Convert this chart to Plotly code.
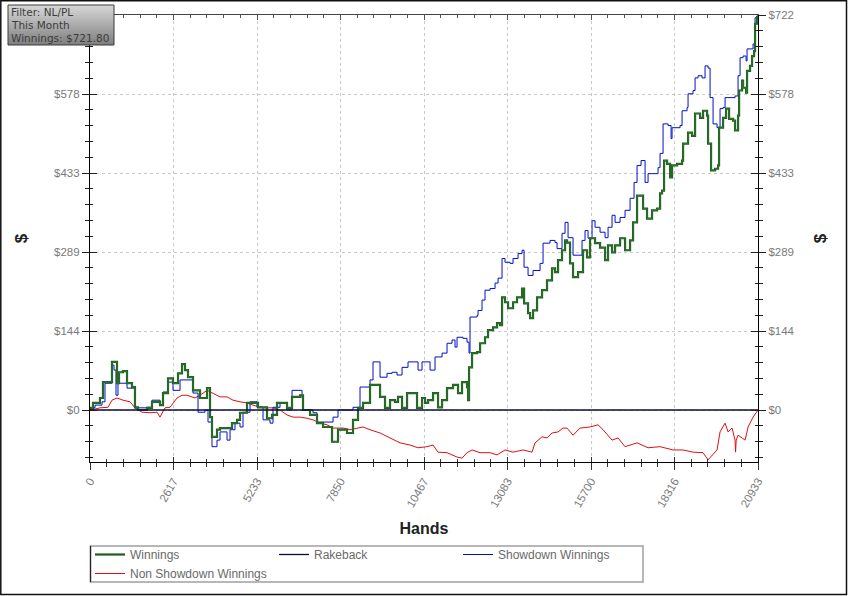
import plotly.graph_objects as go

W, H = 848, 596
L, R, T, B = 90, 90, 15, 134
PW, PH = W - L - R, H - T - B

HANDS_MAX = 20933
Y_MIN, Y_MAX = -95, 722

# Winnings
win_hands = [0, 31, 94, 313, 407, 564, 689, 784, 846, 909, 1034, 1160, 1316, 1410, 1504,
             1786, 1943, 2194, 2288, 2445, 2601, 2758, 2883, 2977, 3071, 3228, 3447, 3667,
             3761, 3823, 3980, 4074, 4294, 4450, 4607, 4701, 4795, 4920, 5108, 5265, 5547,
             5704, 5861, 6049, 6174, 6331, 6581, 6675, 6895, 7114, 7302, 7584, 7772, 8054,
             8242, 8399, 8556, 8775, 8932, 9089, 9245, 9402, 9559, 9653, 9778, 9935, 10091,
             10248, 10405, 10499, 10593, 10750, 10906, 11032, 11188, 11376, 11533, 11658,
             11815, 11847, 11878, 11972, 12129, 12223, 12379, 12473, 12630, 12755, 12849,
             12912, 13006, 13100, 13257, 13382, 13539, 13602, 13727, 13790, 13884, 14009,
             14166, 14322, 14479, 14573, 14667, 14792, 14887, 14949, 15043, 15137, 15294,
             15450, 15576, 15670, 15827, 15983, 16140, 16234, 16359, 16454, 16610, 16767,
             16924, 17018, 17143, 17300, 17331, 17456, 17613, 17770, 17864, 17926, 17989,
             18083, 18177, 18240, 18397, 18553, 18585, 18741, 18867, 18961, 19117, 19211,
             19337, 19368, 19462, 19588, 19682, 19713, 19838, 19932, 20026, 20152, 20214,
             20308, 20340, 20434, 20465, 20559, 20590, 20684, 20747, 20810, 20841, 20903,
             20933]
win_vals = [0, 4, 13, 22, 51, 51, 88, 88, 49, 69, 71, 49, 42, 5, 0,
            4, 15, 9, 31, 58, 49, 67, 84, 73, 60, 36, 22, 40,
            -13, -49, -36, -33, -33, -24, -18, -5, -5, 13, 13, 5, -15,
            -9, 13, 13, 4, 24, 27, 0, -9, -24, -31, -58, -36, -42,
            -18, 4, 13, 46, 46, 24, 4, 18, 15, 24, 4, 31, 31,
            4, 22, 13, 18, 31, 5, 18, 40, 46, 31, 51,
            42, 18, 78, 104, 106, 122, 133, 146, 151, 159, 155,
            206, 197, 186, 197, 206, 222, 195, 177, 168, 182, 206,
            219, 237, 259, 252, 274, 292, 310, 306, 268, 243, 252,
            292, 279, 314, 305, 297, 274, 301, 288, 301, 314, 292,
            310, 343, 392, 392, 368, 350, 365, 368, 396, 401, 456,
            450, 425, 447, 450, 456, 487, 507, 501, 542, 534, 547,
            538, 487, 438, 441, 447, 516, 534, 551, 532, 529, 511,
            538, 584, 602, 589, 580, 620, 629, 647, 656, 706, 718,
            721.8]

# Showdown Winnings
sd_hands = [0, 31, 157, 376, 470, 627, 689, 752, 815, 877, 1034, 1160, 1316, 1410, 1786,
            1943, 2194, 2288, 2445, 2601, 2821, 3134, 3228, 3385, 3604, 3698, 3823, 3980,
            4074, 4294, 4388, 4544, 4701, 4795, 5014, 5234, 5422, 5641, 5735, 5955, 6174,
            6331, 6487, 6644, 6675, 6989, 7114, 7428, 7616, 7772, 8054, 8242, 8462, 8775,
            8869, 8995, 9089, 9308, 9465, 9621, 9778, 9935, 9966, 10186, 10280, 10405,
            10562, 10656, 10812, 11032, 11188, 11345, 11439, 11502, 11690, 11815, 11878,
            11909, 12129, 12160, 12285, 12379, 12536, 12693, 12787, 12912, 13006, 13163,
            13257, 13414, 13539, 13602, 13727, 13884, 14103, 14197, 14416, 14573, 14636,
            14792, 14887, 14981, 15137, 15294, 15419, 15513, 15607, 15733, 15827, 15983,
            16140, 16234, 16359, 16454, 16610, 16767, 16924, 17049, 17143, 17268, 17394,
            17488, 17707, 17801, 17864, 17958, 18115, 18209, 18240, 18491, 18553, 18710,
            18741, 18898, 18961, 19055, 19180, 19274, 19368, 19431, 19525, 19650, 19744,
            19838, 19901, 20214, 20308, 20371, 20465, 20559, 20590, 20747, 20778, 20841,
            20933]
sd_vals = [0, 4, 9, 15, 49, 49, 82, 73, 27, 49, 49, 40, 40, 4, 5,
           18, 9, 33, 51, 36, 55, 55, 31, -4, 0, -22, -67, -55,
           -40, -55, -36, -24, -31, -4, 15, 5, -18, -24, 5, 13, 0,
           36, 36, 22, 0, -5, -22, -22, -13, 0, 0, 5, 42, 55,
           88, 88, 60, 67, 69, 64, 78, 78, 88, 88, 73, 88,
           88, 73, 97, 104, 122, 128, 115, 133, 131, 124, 104,
           170, 173, 182, 201, 219, 222, 232, 241, 277, 270, 268,
           277, 286, 292, 261, 246, 255, 268, 305, 310, 306, 295,
           323, 343, 315, 283, 283, 310, 328, 314, 346, 334, 325,
           315, 334, 356, 343, 352, 365, 387, 416, 447, 456, 416,
           432, 432, 443, 469, 523, 520, 496, 516, 520, 547, 553,
           578, 584, 607, 611, 607, 629, 625, 571, 523, 516, 551,
           553, 571, 574, 611, 644, 647, 638, 660, 660, 669, 717,
           721.8]

# Non Showdown Winnings
nsd_hands = [0, 31, 313, 564, 689, 846, 1034, 1254, 1410, 1630, 1880, 2100, 2194, 2351,
             2507, 2727, 2883, 3040, 3291, 3447, 3667, 3855, 4074, 4294, 4482, 4701, 4920,
             5108, 5328, 5547, 5735, 5955, 6174, 6362, 6581, 6801, 6989, 7208, 7428, 7616,
             7929, 8148, 8368, 8556, 8775, 9089, 9402, 9715, 10029, 10280, 10562, 10750,
             10906, 11188, 11502, 11658, 11815, 11972, 12223, 12536, 12755, 13006, 13257,
             13570, 13852, 13946, 14166, 14322, 14479, 14667, 14824, 14949, 15137, 15357,
             15670, 15921, 16077, 16359, 16548, 16767, 17143, 17488, 17864, 18271, 18585,
             18898, 19211, 19368, 19650, 19744, 19901, 19995, 20120, 20214, 20230, 20250,
             20308, 20528, 20622, 20778, 20933]
nsd_vals = [0, 0, 4, 5, 18, 22, 18, 15, 4, -4, -5, -4, -13, 4,
            5, 22, 27, 27, 22, 27, 36, 31, 24, 24, 18, 15, 13,
            9, 5, 4, 4, 0, -9, -13, -13, -15, -18, -24, -27, -33,
            -33, -36, -33, -31, -36, -42, -51, -60, -64, -69, -67, -64,
            -77, -78, -86, -88, -78, -73, -78, -78, -82, -73, -77,
            -73, -77, -60, -49, -51, -42, -40, -33, -33, -46, -33,
            -31, -27, -36, -55, -51, -67, -60, -69, -67, -73, -73,
            -77, -78, -91, -73, -40, -24, -40, -33, -55, -77, -55,
            -46, -55, -31, -13, 0]

# Rakeback (flat)
rb_hands = [0, HANDS_MAX]
rb_vals = [0, 0]

x_ticks = [i * HANDS_MAX / 8 for i in range(9)]
x_labels = ["0", "2617", "5233", "7850", "10467", "13083", "15700", "18316", "20933"]
y_ticks = [i * Y_MAX / 5 for i in range(6)]
y_labels = ["$0", "$144", "$289", "$433", "$578", "$722"]
y_labels_left = y_labels[:-1] + [""]  # top label sits under the info box

TICK_FONT = dict(family="Liberation Sans", size=11.5, color="#7a7a7a")


def px_x(px):
    # screen pixel -> paper x
    return (px - L) / PW


def px_y(py):
    # screen pixel -> paper y
    return (T + PH - py) / PH


fig = go.Figure()

fig.add_trace(go.Scatter(x=nsd_hands, y=nsd_vals, name="Non Showdown Winnings",
                         mode="lines", line=dict(color="#e01010", width=1),
                         legendrank=4))
fig.add_trace(go.Scatter(x=sd_hands, y=sd_vals, name="Showdown Winnings",
                         mode="lines", line=dict(color="#0010c8", width=1, shape="hv"),
                         legendrank=3))
fig.add_trace(go.Scatter(x=win_hands, y=win_vals, name="Winnings",
                         mode="lines", line=dict(color="#1f5a1f", width=2.2, shape="hv"),
                         legendrank=1))
fig.add_trace(go.Scatter(x=win_hands, y=win_vals, showlegend=False,
                         mode="lines", line=dict(color="#2f7d2f", width=0.9, shape="hv")))
fig.add_trace(go.Scatter(x=rb_hands, y=rb_vals, name="Rakeback",
                         mode="lines", line=dict(color="#0c0c3a", width=1.3),
                         legendrank=2))

# invisible helpers so the extra overlay axes get drawn
for xa, ya in [("x2", "y"), ("x3", "y"), ("x", "y2"), ("x", "y3"), ("x", "y4")]:
    fig.add_trace(go.Scatter(x=[0], y=[0], xaxis=xa, yaxis=ya, mode="markers",
                             marker=dict(opacity=0), showlegend=False))

xr = [0, HANDS_MAX]
yr = [Y_MIN, Y_MAX]


def minor(step, side, color):
    return dict(tickmode="linear", tick0=0, dtick=step, ticklen=4 if side == "outside" else 3,
                ticks=side, tickcolor=color)


fig.update_layout(
    width=W, height=H,
    margin=dict(l=L, r=R, t=T, b=B, autoexpand=False),
    paper_bgcolor="white", plot_bgcolor="white",
    hovermode=False,
    showlegend=True,
    legend=dict(orientation="h", x=0, xanchor="left", y=px_y(540), yanchor="top",
                entrywidth=139, borderwidth=0, bgcolor="rgba(0,0,0,0)",
                font=dict(family="Liberation Sans", size=12, color="#6a6a6a"),
                tracegroupgap=0, itemwidth=30),
    xaxis=dict(range=xr, tickmode="array", tickvals=x_ticks, ticktext=x_labels,
               tickangle=-60, tickfont=TICK_FONT, ticks="outside", ticklen=7,
               tickcolor="#333", minor=minor(HANDS_MAX / 40, "outside", "#333"),
               showline=True, linecolor="black", linewidth=1, showgrid=True,
               gridcolor="#c8c8c8", griddash="dot", zeroline=False, automargin=False,
               title=dict(text="<b>Hands</b>", standoff=14,
                          font=dict(family="Liberation Sans", size=16, color="#222"))),
    xaxis2=dict(range=xr, overlaying="x", side="top", anchor="y", tickmode="array",
                tickvals=x_ticks, showticklabels=False, ticks="inside", ticklen=5,
                tickcolor="#555", minor=minor(HANDS_MAX / 40, "inside", "#555"),
                showline=True, linecolor="#444", linewidth=1, showgrid=False,
                zeroline=False),
    xaxis3=dict(range=xr, overlaying="x", side="bottom", anchor="y", tickmode="array",
                tickvals=x_ticks, showticklabels=False, ticks="inside", ticklen=5,
                tickcolor="#333", minor=minor(HANDS_MAX / 40, "inside", "#333"),
                showline=False, showgrid=False, zeroline=False),
    yaxis=dict(range=yr, tickmode="array", tickvals=y_ticks, ticktext=y_labels_left,
               tickfont=TICK_FONT, ticks="outside", ticklen=7, tickcolor="#222",
               minor=minor(Y_MAX / 25, "outside", "#222"),
               showline=True, linecolor="black", linewidth=1.2, showgrid=True,
               gridcolor="#c8c8c8", griddash="dot", zeroline=False, automargin=False,
               title=dict(text="<b>$</b>", standoff=22,
                          font=dict(family="Liberation Sans", size=17, color="#222"))),
    yaxis2=dict(range=yr, overlaying="y", side="right", anchor="x", tickmode="array",
                tickvals=y_ticks, ticktext=y_labels, tickfont=TICK_FONT, ticks="outside",
                ticklen=7, tickcolor="#222", minor=minor(Y_MAX / 25, "outside", "#222"),
                showline=True, linecolor="black", linewidth=1.2, showgrid=False,
                zeroline=False, automargin=False,
                title=dict(text="<b>$</b>", standoff=20,
                           font=dict(family="Liberation Sans", size=17, color="#222"))),
    yaxis3=dict(range=yr, overlaying="y", side="left", anchor="x", tickmode="array",
                tickvals=y_ticks, showticklabels=False, ticks="inside", ticklen=7,
                tickcolor="#222", minor=minor(Y_MAX / 25, "inside", "#222"),
                showline=False, showgrid=False, zeroline=False),
    yaxis4=dict(range=yr, overlaying="y", side="right", anchor="x", tickmode="array",
                tickvals=y_ticks, showticklabels=False, ticks="inside", ticklen=7,
                tickcolor="#222", minor=minor(Y_MAX / 25, "inside", "#222"),
                showline=False, showgrid=False, zeroline=False),
)

shapes = []
# outer frame
shapes.append(dict(type="rect", xref="paper", yref="paper",
                   x0=px_x(0.8), x1=px_x(846.5), y0=px_y(594.5), y1=px_y(0.8),
                   line=dict(color="#111", width=1.5), layer="above"))
# legend box
shapes.append(dict(type="rect", xref="paper", yref="paper",
                   x0=px_x(90.5), x1=px_x(643), y0=px_y(582), y1=px_y(546),
                   line=dict(color="#a0a0a0", width=1.5), layer="above"))
shapes.append(dict(type="line", xref="paper", yref="paper",
                   x0=px_x(90.5), x1=px_x(90.5), y0=px_y(582), y1=px_y(546),
                   line=dict(color="#222", width=1.2), layer="above"))

# info box with a grey gradient
bx0, bx1, by0, by1 = 8, 114, 5, 45
n = 20
c_top, c_bot = (214, 214, 214), (128, 128, 128)
for i in range(n):
    f = i / (n - 1)
    c = tuple(int(round(a + (b - a) * f)) for a, b in zip(c_top, c_bot))
    shapes.append(dict(type="rect", xref="paper", yref="paper",
                       x0=px_x(bx0), x1=px_x(bx1),
                       y0=px_y(by0 + (i + 1) * (by1 - by0) / n),
                       y1=px_y(by0 + i * (by1 - by0) / n),
                       fillcolor="rgb(%d,%d,%d)" % c, line=dict(width=0), layer="above"))
shapes.append(dict(type="rect", xref="paper", yref="paper",
                   x0=px_x(bx0), x1=px_x(bx1), y0=px_y(by1), y1=px_y(by0),
                   line=dict(color="#3a3a3a", width=1), layer="above"))
fig.update_layout(shapes=shapes)

info_lines = ["Filter: NL/PL", "This Month", "Winnings: $721.80"]
for i, txt in enumerate(info_lines):
    fig.add_annotation(xref="paper", yref="paper", x=px_x(bx0 + 1), y=px_y(12 + 13 * i),
                       xanchor="left", yanchor="middle", align="left", showarrow=False,
                       text=txt, font=dict(family="DejaVu Sans", size=10.5, color="#3c3c3c"))

# drop the default page margin so the figure sits at the window corner
fig.write_html("out.html", config={"displayModeBar": False},
               post_script="document.body.style.margin='0';")
